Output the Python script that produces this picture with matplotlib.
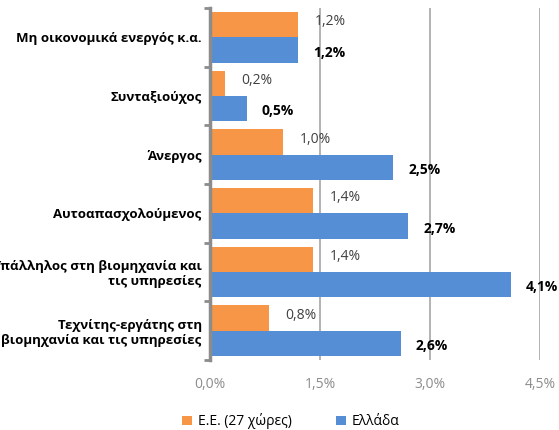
import matplotlib
matplotlib.use('Agg')
import matplotlib.pyplot as plt
import numpy as np

plt.rcParams['font.family'] = ['Open Sans', 'DejaVu Sans']

# categories from bottom to top
categories = ["Τεχνίτης-εργάτης στη\nβιομηχανία και τις υπηρεσίες",
              "Υπάλληλος στη βιομηχανία και\nτις υπηρεσίες",
              "Αυτοαπασχολούμενος",
              "Άνεργος",
              "Συνταξιούχος",
              "Μη οικονομικά ενεργός κ.α."]
eu_values = [0.8, 1.4, 1.4, 1.0, 0.2, 1.2]
gr_values = [2.6, 4.1, 2.7, 2.5, 0.5, 1.2]
xticks = [0.0, 1.5, 3.0, 4.5]

orange = '#F79646'
blue = '#558ED5'
grid_col = '#A6A6A6'

fig = plt.figure(figsize=(5.59, 4.30), dpi=100)
ax = fig.add_axes([0.3757, 0.163, 0.5903, 0.8184])

y = np.arange(len(categories))
h = 0.43
ax.barh(y + h / 2, eu_values, height=h, color=orange, label='Ε.Ε. (27 χώρες)', zorder=3)
ax.barh(y - h / 2, gr_values, height=h, color=blue, label='Ελλάδα', zorder=3)

for i in range(len(categories)):
    ax.annotate("{:.1f}%".format(eu_values[i]).replace('.', ','), (eu_values[i], y[i] + h / 2),
                xytext=(12, 2), textcoords='offset points', va='center', ha='left',
                fontsize=10, color='#404040')
    ax.annotate("{:.1f}%".format(gr_values[i]).replace('.', ','), (gr_values[i], y[i] - h / 2),
                xytext=(11, -2), textcoords='offset points', va='center', ha='left',
                fontsize=10, fontweight='bold', color='black')

ax.set_xlim(0, 4.5)
ax.set_ylim(-0.5, len(categories) - 0.5)
ax.set_xticks(xticks)
ax.set_xticklabels(["{:.1f}%".format(v).replace('.', ',') for v in xticks], color='#8C8C8C', fontsize=10)
ax.tick_params(axis='x', length=0, pad=12)

ax.set_yticks(y)
ax.set_yticklabels(categories, fontsize=9.5, fontweight='bold', color='black')
ax.set_yticks(np.arange(-0.5, len(categories), 1), minor=True)
ax.tick_params(axis='y', which='major', length=0, pad=6)
ax.tick_params(axis='y', which='minor', length=4, width=2, color='#8C8C8C')
for lbl in ax.get_yticklabels():
    lbl.set_multialignment('right')

ax.xaxis.grid(True, color=grid_col, linewidth=1.2, zorder=0)
for s in ['top', 'right', 'bottom']:
    ax.spines[s].set_visible(False)
ax.spines['left'].set_color('#8C8C8C')
ax.spines['left'].set_linewidth(2.5)
ax.spines['left'].set_zorder(4)

handles, labels = ax.get_legend_handles_labels()
fig.legend(handles, labels, loc='center', bbox_to_anchor=(0.52, 0.02), ncol=2, frameon=False,
           fontsize=10, handlelength=0.7, handleheight=0.7, handletextpad=0.4, columnspacing=3.2)

fig.savefig('out.png', dpi=100)
